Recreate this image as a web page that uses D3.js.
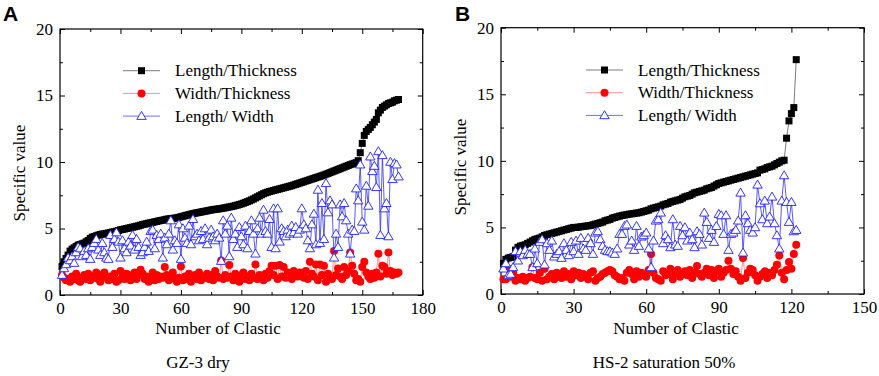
<!DOCTYPE html>
<html>
<head>
<meta charset="utf-8">
<script src="https://cdn.jsdelivr.net/npm/d3@7"></script>
<style>
body { margin: 0; background: #fff; }
svg text { font-family: "Liberation Serif", "Times New Roman", serif; fill: #000; }
</style>
</head>
<body>
<svg id="chart" width="879" height="376"></svg>
<script>
// panel A : GZ-3 dry  (168 clastics)
var lenThickA = [
  2.15, 2.5, 2.75, 3.0, 3.3, 3.45, 3.55, 3.65, 3.75, 3.8,
  3.85, 3.9, 4.0, 4.1, 4.25, 4.35, 4.4, 4.45, 4.5, 4.55,
  4.58, 4.6, 4.63, 4.66, 4.7, 4.73, 4.76, 4.8, 4.85, 4.9,
  4.93, 4.96, 5.0, 5.03, 5.06, 5.1, 5.13, 5.17, 5.2, 5.25,
  5.3, 5.33, 5.36, 5.4, 5.43, 5.46, 5.5, 5.53, 5.57, 5.6,
  5.63, 5.66, 5.7, 5.72, 5.74, 5.76, 5.78, 5.8, 5.84, 5.88,
  5.92, 5.96, 6.0, 6.04, 6.08, 6.12, 6.15, 6.18, 6.21, 6.24,
  6.27, 6.3, 6.33, 6.36, 6.39, 6.42, 6.44, 6.46, 6.48, 6.5,
  6.53, 6.56, 6.59, 6.62, 6.65, 6.68, 6.72, 6.76, 6.8, 6.85,
  6.9, 6.96, 7.02, 7.08, 7.15, 7.22, 7.3, 7.38, 7.46, 7.54,
  7.62, 7.68, 7.73, 7.78, 7.82, 7.86, 7.9, 7.94, 7.98, 8.02,
  8.06, 8.1, 8.14, 8.18, 8.22, 8.27, 8.32, 8.37, 8.42, 8.47,
  8.52, 8.57, 8.62, 8.67, 8.72, 8.77, 8.82, 8.87, 8.92, 8.97,
  9.02, 9.08, 9.14, 9.2, 9.26, 9.32, 9.38, 9.44, 9.5, 9.56,
  9.62, 9.68, 9.74, 9.8, 9.85, 9.9, 9.95, 10.1, 10.7, 11.4,
  12.0, 12.3, 12.45, 12.6, 12.8, 13.0, 13.2, 13.7, 13.9, 14.1,
  14.2, 14.3, 14.4, 14.45, 14.5, 14.6, 14.65, 14.7
];
var widThickA = [
  1.5, 1.3, 1.1, 1.2, 1.0, 1.4, 1.2, 1.6, 1.1, 1.0,
  1.3, 1.5, 1.2, 1.6, 1.1, 1.4, 1.3, 1.7, 1.2, 1.0,
  1.5, 1.7, 1.3, 1.1, 1.4, 1.2, 1.6, 1.0, 1.1, 1.8,
  1.4, 1.2, 1.6, 1.5, 1.1, 1.3, 1.7, 1.2, 1.5, 1.9,
  1.6, 1.2, 1.4, 1.0, 1.3, 1.7, 1.1, 1.5, 1.2, 1.4,
  1.3, 2.1, 1.5, 1.1, 1.4, 1.7, 1.2, 1.0, 1.3, 2.15,
  1.1, 1.4, 1.2, 1.6, 1.0, 1.3, 1.5, 1.2, 1.7, 1.1,
  1.4, 1.3, 1.6, 1.2, 1.5, 1.1, 1.8, 1.4, 1.3, 2.6,
  1.2, 1.5, 1.3, 2.25, 1.4, 1.1, 1.6, 1.3, 1.0, 1.5,
  1.7, 1.2, 1.4, 1.1, 1.6, 1.3, 2.3, 1.2, 1.5, 1.4,
  1.1, 1.6, 1.3, 1.8, 2.2, 1.5, 2.2, 1.2, 2.25, 1.4,
  2.1, 1.3, 1.7, 1.6, 1.2, 1.8, 1.5, 1.4, 1.7, 1.6,
  1.3, 1.8, 1.2, 2.5, 1.6, 1.4, 2.3, 1.1, 2.3, 1.5,
  2.2, 1.0, 1.6, 1.3, 1.2, 3.3, 1.5, 2.0, 1.4, 1.2,
  2.1, 1.5, 1.8, 3.2, 2.2, 1.6, 1.1, 1.2, 1.0, 2.1,
  2.5, 1.7, 1.4, 1.2, 1.6, 1.3, 1.7, 3.1, 1.4, 2.2,
  2.1, 1.6, 3.2, 1.8, 1.5, 1.7, 1.6, 1.7
];
var lenWidA = [
  1.5, 2.0, 2.3, 2.8, 2.6, 2.9, 2.4, 3.2, 3.6, 3.5,
  2.9, 3.3, 3.0, 3.5, 2.7, 3.6, 3.9, 4.2, 3.4, 3.0,
  3.9, 3.2, 2.8, 2.7, 4.5, 3.6, 4.2, 4.7, 4.0, 2.8,
  4.1, 3.5, 3.2, 4.0, 3.7, 4.5, 3.4, 4.2, 3.6, 3.0,
  3.2, 3.6, 4.0, 3.3, 4.8, 4.9, 3.5, 4.5, 4.2, 4.6,
  2.8, 4.3, 3.8, 4.6, 5.6, 3.4, 4.1, 3.9, 5.3, 2.7,
  5.0, 4.3, 3.9, 5.2, 3.8, 5.7, 4.4, 4.6, 4.1, 4.8,
  4.2, 5.0, 3.8, 4.3, 4.9, 4.4, 4.1, 4.6, 4.3, 2.55,
  5.6, 4.6, 5.2, 2.9, 5.8, 4.2, 4.6, 3.6, 5.1, 4.4,
  3.8, 5.2, 3.5, 4.8, 5.6, 4.6, 3.1, 5.0, 5.8, 4.6,
  6.4, 4.8, 4.6, 5.7, 3.6, 6.5, 3.5, 6.5, 4.0, 5.0,
  4.8, 4.4, 4.9, 4.6, 5.2, 4.7, 5.1, 4.6, 4.9, 6.5,
  5.3, 5.0, 4.1, 3.5, 5.3, 6.1, 3.8, 7.9, 3.9, 6.9,
  4.2, 8.4, 6.2, 7.1, 6.8, 2.8, 4.6, 3.6, 6.8, 5.9,
  6.9, 5.6, 4.6, 3.1, 4.9, 4.8, 8.0, 7.1, 9.8, 5.5,
  4.9, 8.2, 6.7, 10.4, 9.3, 9.7, 8.1, 10.8, 4.5, 10.5,
  6.5, 6.9, 4.4, 10.0, 8.7, 9.9, 9.8, 8.9
];

// panel B : HS-2 saturation 50%  (122 clastics)
var lenThickB = [
  2.3, 2.6, 2.7, 2.75, 2.8, 3.3, 3.5, 3.6, 3.65, 3.7,
  3.8, 3.9, 4.0, 4.1, 4.15, 4.2, 4.3, 4.4, 4.45, 4.5,
  4.55, 4.6, 4.65, 4.7, 4.75, 4.8, 4.85, 4.9, 4.95, 5.0,
  5.0, 5.02, 5.05, 5.07, 5.1, 5.12, 5.15, 5.2, 5.25, 5.3,
  5.35, 5.4, 5.5, 5.55, 5.6, 5.7, 5.75, 5.8, 5.85, 5.9,
  5.93, 5.96, 6.0, 6.02, 6.05, 6.08, 6.1, 6.15, 6.2, 6.25,
  6.3, 6.4, 6.45, 6.5, 6.55, 6.6, 6.7, 6.75, 6.8, 6.9,
  6.95, 7.0, 7.05, 7.1, 7.2, 7.3, 7.35, 7.4, 7.5, 7.6,
  7.65, 7.7, 7.75, 7.8, 7.9, 7.95, 8.0, 8.1, 8.2, 8.3,
  8.35, 8.4, 8.45, 8.5, 8.55, 8.6, 8.65, 8.7, 8.75, 8.8,
  8.85, 8.9, 8.95, 9.0, 9.05, 9.1, 9.3, 9.35, 9.4, 9.5,
  9.55, 9.6, 9.7, 9.8, 9.9, 10.0, 10.05, 11.7, 13.0, 13.55,
  14.0, 17.6
];
var widThickB = [
  1.1, 1.1, 1.9, 1.3, 1.6, 1.0, 1.2, 1.1, 1.3, 1.0,
  1.2, 1.3, 2.0, 1.2, 1.1, 1.6, 1.0, 1.9, 1.1, 1.3,
  1.5, 1.1, 1.6, 1.4, 1.2, 1.7, 1.3, 1.5, 1.1, 1.7,
  1.4, 1.6, 1.2, 1.5, 1.3, 1.1, 1.6, 1.7, 1.0, 1.2,
  1.3, 1.5, 1.6, 1.7, 1.8, 1.7, 1.4, 1.3, 1.1, 1.2,
  1.0, 1.6, 1.8, 1.5, 1.1, 1.7, 1.3, 1.6, 1.4, 1.3,
  1.8, 3.0, 1.6, 1.2, 1.1, 1.0, 1.7, 1.4, 1.5, 1.9,
  1.1, 1.6, 1.8, 1.3, 1.5, 1.7, 1.4, 1.8, 1.2, 1.6,
  2.1, 1.5, 1.3, 1.6, 1.9, 1.4, 1.8, 1.2, 1.7, 1.9,
  1.3, 1.6, 1.8, 2.5, 1.9, 1.5, 1.7, 1.3, 1.0, 2.7,
  1.2, 1.6, 1.9, 1.8, 1.4, 1.0, 1.3, 1.5, 1.7, 1.2,
  1.6, 1.4, 1.8, 2.2, 2.9, 1.6, 1.1, 1.8, 2.4, 1.9,
  3.0, 3.7
];
var lenWidB = [
  1.9, 2.3, 1.4, 1.5, 2.0, 3.2, 2.5, 3.2, 2.9, 3.3,
  3.0, 3.0, 2.0, 3.4, 2.3, 3.9, 4.1, 2.2, 3.8, 3.3,
  4.0, 2.8, 3.0, 3.2, 2.7, 3.8, 3.3, 2.9, 3.9, 3.2,
  4.0, 3.0, 4.2, 3.4, 3.3, 4.2, 3.8, 3.0, 4.6, 4.7,
  4.1, 3.6, 3.3, 3.2, 3.2, 3.1, 3.0, 3.4, 4.5, 4.5,
  5.1, 5.2, 3.7, 4.0, 3.3, 5.1, 3.6, 4.3, 4.4, 4.6,
  3.4, 2.0, 4.0, 5.5, 5.6, 6.1, 3.8, 4.4, 4.1, 3.5,
  5.6, 3.7, 3.6, 5.1, 4.4, 5.0, 4.0, 4.6, 4.1, 3.5,
  4.7, 4.5, 3.7, 6.1, 5.4, 4.2, 4.8, 3.9, 5.1, 6.0,
  5.9, 4.5, 5.9, 3.3, 4.5, 4.6, 4.8, 5.5, 7.6, 3.1,
  5.9, 5.3, 4.8, 4.6, 5.0, 8.2, 6.8, 5.6, 7.0, 5.3,
  5.8, 7.3, 5.3, 4.4, 3.4, 7.0, 8.9, 6.9, 5.4, 6.9,
  4.7, 4.8
];

var seriesNames = ["Length/Thickness", "Width/Thickness", "Length/ Width"];

var svg = d3.select("#chart");

function drawPanel(p) {
    var x = d3.scaleLinear().domain([0, p.xMax]).range([p.left, p.right]);
    var y = d3.scaleLinear().domain([0, 20]).range([p.bottom, p.top]);
    var g = svg.append("g");

    var majX = d3.range(0, p.xMax + 1, 30);
    var minX = d3.range(15, p.xMax, 30);
    var majY = d3.range(0, 21, 5);
    var minY = d3.range(2.5, 20, 5);

    // ticks, all pointing inward
    function axis(gen, scale, vals, size, pos, labels) {
        var a = gen(scale).tickValues(vals).tickSizeInner(-size).tickSizeOuter(0).tickPadding(7);
        if (!labels) a.tickFormat("");
        var ax = g.append("g").attr("transform", pos).call(a);
        ax.select(".domain").remove();
        ax.selectAll("line").attr("stroke", "#000");
        ax.selectAll("text")
            .style("font-family", "'Liberation Serif', serif")
            .style("font-size", "17px");
    }
    axis(d3.axisBottom, x, majX, 5, "translate(0," + p.bottom + ")", true);
    axis(d3.axisBottom, x, minX, 3, "translate(0," + p.bottom + ")", false);
    axis(d3.axisTop, x, majX, 5, "translate(0," + p.top + ")", false);
    axis(d3.axisTop, x, minX, 3, "translate(0," + p.top + ")", false);
    axis(d3.axisLeft, y, majY, 5, "translate(" + p.left + ",0)", true);
    axis(d3.axisLeft, y, minY, 3, "translate(" + p.left + ",0)", false);
    axis(d3.axisRight, y, majY, 5, "translate(" + p.right + ",0)", false);
    axis(d3.axisRight, y, minY, 3, "translate(" + p.right + ",0)", false);

    g.append("rect")
        .attr("x", p.left).attr("y", p.top)
        .attr("width", p.right - p.left).attr("height", p.bottom - p.top)
        .attr("fill", "none").attr("stroke", "#000").attr("stroke-width", 1.2);

    var line = d3.line().x(function (d, i) { return x(i + 1); }).y(function (d) { return y(d); });
    var tri = "M0,-4.7L4.7,3.3L-4.7,3.3Z";

    // black squares
    g.append("path").datum(p.lt).attr("d", line)
        .attr("fill", "none").attr("stroke", "#444").attr("stroke-width", 0.7);
    g.selectAll(".sq").data(p.lt).enter().append("rect")
        .attr("x", function (d, i) { return x(i + 1) - 3.5; })
        .attr("y", function (d) { return y(d) - 3.5; })
        .attr("width", 7).attr("height", 7).attr("fill", "#000");

    // red circles
    g.append("path").datum(p.wt).attr("d", line)
        .attr("fill", "none").attr("stroke", "#ff6060").attr("stroke-width", 0.7);
    g.selectAll(".ci").data(p.wt).enter().append("circle")
        .attr("cx", function (d, i) { return x(i + 1); })
        .attr("cy", function (d) { return y(d); })
        .attr("r", 4).attr("fill", "#ff0000");

    // blue open triangles
    g.append("path").datum(p.lw).attr("d", line)
        .attr("fill", "none").attr("stroke", "#3030ff").attr("stroke-width", 0.8);
    g.selectAll(".tr").data(p.lw).enter().append("path")
        .attr("d", tri)
        .attr("transform", function (d, i) { return "translate(" + x(i + 1) + "," + y(d) + ")"; })
        .attr("fill", "#fff").attr("stroke", "#2020ff").attr("stroke-width", 0.9);

    // legend
    var lg = g.append("g");
    var rows = [
        { name: seriesNames[0], col: "#444" },
        { name: seriesNames[1], col: "#ff6060" },
        { name: seriesNames[2], col: "#3030ff" }
    ];
    rows.forEach(function (r, k) {
        var ly = p.legY + k * 22.7;
        lg.append("line").attr("x1", p.legX).attr("x2", p.legX + 37)
            .attr("y1", ly).attr("y2", ly).attr("stroke", r.col).attr("stroke-width", 0.7);
        var cx = p.legX + 18.5;
        if (k === 0) {
            lg.append("rect").attr("x", cx - 3.5).attr("y", ly - 3.5)
                .attr("width", 7).attr("height", 7).attr("fill", "#000");
        } else if (k === 1) {
            lg.append("circle").attr("cx", cx).attr("cy", ly).attr("r", 4).attr("fill", "#ff0000");
        } else {
            lg.append("path").attr("d", tri).attr("transform", "translate(" + cx + "," + ly + ")")
                .attr("fill", "#fff").attr("stroke", "#2020ff").attr("stroke-width", 0.9);
        }
        lg.append("text").attr("x", p.legX + 52).attr("y", ly + 5.5)
            .style("font-size", "17px").text(r.name);
    });

    // titles
    g.append("text").attr("x", p.xTitleX).attr("y", 334)
        .attr("text-anchor", "middle").style("font-size", "17px").text("Number of Clastic");
    g.append("text")
        .attr("transform", "translate(" + (p.left - 35) + "," + p.yTitleY + ") rotate(-90)")
        .attr("text-anchor", "middle").style("font-size", "17px").text("Specific value");
    g.append("text").attr("x", p.capX).attr("y", 368)
        .attr("text-anchor", "middle").style("font-size", "17px").text(p.caption);
    g.append("text").attr("x", p.tagX).attr("y", 21)
        .style("font-family", "'Liberation Sans', Arial, sans-serif")
        .style("font-weight", "bold").style("font-size", "21px").text(p.tag);
}

drawPanel({
    left: 60, right: 422.7, top: 29, bottom: 295, xMax: 180,
    lt: lenThickA, wt: widThickA, lw: lenWidA,
    legX: 123, legY: 70.7, xTitleX: 218, yTitleY: 173,
    capX: 198, caption: "GZ-3 dry", tagX: 3, tag: "A"
});
drawPanel({
    left: 501, right: 864, top: 27.7, bottom: 294, xMax: 150,
    lt: lenThickB, wt: widThickB, lw: lenWidB,
    legX: 586, legY: 70, xTitleX: 676, yTitleY: 167,
    capX: 664, caption: "HS-2 saturation 50%", tagX: 455, tag: "B"
});
</script>
</body>
</html>
